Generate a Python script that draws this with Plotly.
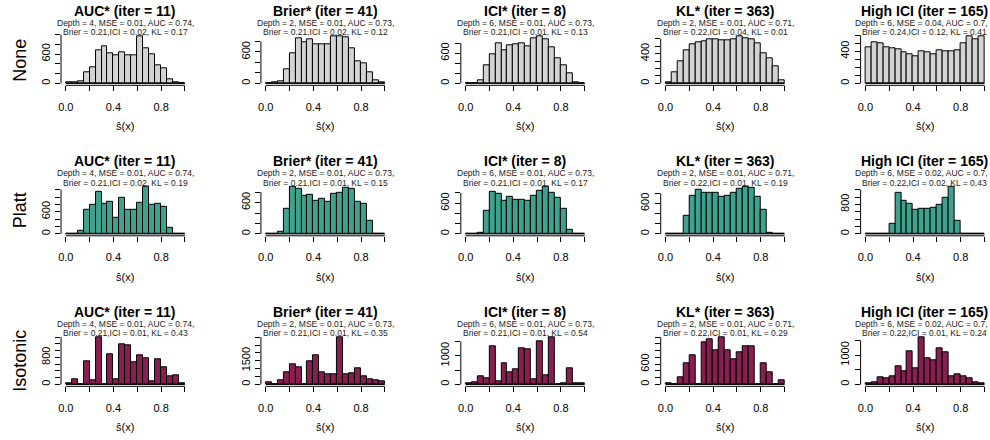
import plotly.graph_objects as go

# Histogram bins of the calibrated scores
bin_edges = [0.00, 0.05, 0.10, 0.15, 0.20, 0.25, 0.30, 0.35, 0.40, 0.45, 0.50,
             0.55, 0.60, 0.65, 0.70, 0.75, 0.80, 0.85, 0.90, 0.95, 1.00]

row_names = ["None", "Platt", "Isotonic"]
fill_colors = ["#D3D3D3", "#3FA28F", "#871F50"]

panel_titles = ["AUC* (iter = 11)", "Brier* (iter = 41)", "ICI* (iter = 8)",
                "KL* (iter = 363)", "High ICI (iter = 165)"]

stats_line1 = [
    ["Depth = 4, MSE = 0.01, AUC = 0.74,", "Depth = 2, MSE = 0.01, AUC = 0.73,",
     "Depth = 6, MSE = 0.01, AUC = 0.73,", "Depth = 2, MSE = 0.01, AUC = 0.71,",
     "Depth = 6, MSE = 0.04, AUC = 0.7,"],
    ["Depth = 4, MSE = 0.01, AUC = 0.74,", "Depth = 2, MSE = 0.01, AUC = 0.73,",
     "Depth = 6, MSE = 0.01, AUC = 0.73,", "Depth = 2, MSE = 0.01, AUC = 0.71,",
     "Depth = 6, MSE = 0.02, AUC = 0.7,"],
    ["Depth = 4, MSE = 0.01, AUC = 0.74,", "Depth = 2, MSE = 0.01, AUC = 0.73,",
     "Depth = 6, MSE = 0.01, AUC = 0.73,", "Depth = 2, MSE = 0.01, AUC = 0.71,",
     "Depth = 6, MSE = 0.02, AUC = 0.7,"],
]
stats_line2 = [
    ["Brier = 0.21,ICI = 0.02, KL = 0.17", "Brier = 0.21,ICI = 0.02, KL = 0.12",
     "Brier = 0.21,ICI = 0.01, KL = 0.13", "Brier = 0.22,ICI = 0.04, KL = 0.01",
     "Brier = 0.24,ICI = 0.12, KL = 0.41"],
    ["Brier = 0.21,ICI = 0.02, KL = 0.19", "Brier = 0.21,ICI = 0.01, KL = 0.15",
     "Brier = 0.21,ICI = 0.01, KL = 0.17", "Brier = 0.22,ICI = 0.01, KL = 0.19",
     "Brier = 0.22,ICI = 0.02, KL = 0.43"],
    ["Brier = 0.21,ICI = 0.01, KL = 0.43", "Brier = 0.21,ICI = 0.01, KL = 0.35",
     "Brier = 0.21,ICI = 0.01, KL = 0.54", "Brier = 0.22,ICI = 0.01, KL = 0.29",
     "Brier = 0.22,ICI = 0.01, KL = 0.24"],
]

# Bin counts, no recalibration
none_auc = [14, 14, 48, 226, 322, 685, 753, 616, 582, 637, 582, 582, 965, 719, 603, 377, 308, 89, 14, 7]
none_brier = [5, 13, 33, 267, 567, 867, 787, 833, 753, 747, 747, 900, 900, 887, 667, 420, 380, 220, 53, 13]
none_ici = [7, 7, 55, 362, 581, 787, 663, 752, 773, 800, 732, 903, 937, 869, 718, 499, 356, 205, 14, 7]
none_kl = [14, 150, 296, 447, 531, 550, 573, 597, 597, 578, 578, 588, 635, 611, 588, 541, 409, 338, 235, 47]
none_high = [452, 516, 503, 452, 439, 426, 387, 366, 335, 400, 383, 366, 409, 400, 404, 417, 495, 589, 546, 589]

# Bin counts after Platt scaling
platt_auc = [0, 0, 97, 649, 794, 1133, 813, 871, 426, 987, 649, 649, 842, 1280, 794, 823, 745, 174, 0, 0]
platt_brier = [0, 0, 39, 481, 904, 871, 728, 754, 631, 663, 611, 761, 793, 878, 858, 611, 579, 260, 0, 0]
platt_ici = [0, 0, 20, 452, 822, 775, 654, 721, 674, 674, 654, 741, 836, 923, 809, 701, 485, 81, 0, 0]
platt_kl = [0, 0, 3, 348, 750, 871, 817, 817, 817, 737, 750, 804, 898, 931, 905, 737, 482, 20, 0, 0]
platt_high = [0, 0, 0, 0, 280, 1120, 905, 812, 644, 672, 672, 718, 784, 970, 1280, 345, 0, 0, 0, 0]

# Bin counts after isotonic regression
iso_auc = [30, 150, 0, 700, 120, 1400, 0, 900, 150, 1200, 1150, 650, 850, 770, 100, 730, 500, 250, 270, 30]
iso_brier = [150, 0, 257, 792, 1284, 1070, 0, 1498, 1862, 792, 642, 642, 2996, 642, 706, 1006, 535, 321, 257, 214]
iso_ici = [35, 83, 271, 212, 1322, 118, 732, 437, 531, 1274, 1239, 177, 1522, 319, 1652, 0, 35, 555, 35, 24]
iso_kl = [30, 0, 220, 630, 850, 0, 1250, 1350, 1020, 1400, 1000, 750, 950, 1120, 1140, 0, 620, 350, 0, 120]
iso_high = [35, 58, 253, 207, 288, 610, 460, 1116, 552, 1610, 886, 828, 1242, 1093, 265, 345, 288, 196, 58, 35]

counts = [
    [none_auc, none_brier, none_ici, none_kl, none_high],
    [platt_auc, platt_brier, platt_ici, platt_kl, platt_high],
    [iso_auc, iso_brier, iso_ici, iso_kl, iso_high],
]

# y-axis tick spacing and which ticks carry a label
y_tick_step = [
    [200, 200, 200, 100, 100],
    [200, 200, 200, 200, 200],
    [200, 500, 500, 200, 500],
]
y_tick_labelled = [
    [[0, 600], [0, 600], [0, 600], [0, 400], [0, 400]],
    [[0, 600], [0, 600], [0, 600], [0, 600], [0, 800]],
    [[0, 800], [0, 1500], [0, 1000], [0, 600], [0, 1000]],
]

x_tick_vals = [0.0, 0.2, 0.4, 0.6, 0.8, 1.0]
x_tick_text = ["0.0", "", "0.4", "", "0.8", ""]

# ---- page geometry (pixels) ----
W, H = 990, 440
col_zero = 63.0      # pixel of x = 0 in the first column
col_pitch = 200.5
unit_w = 119.5       # pixels spanned by x from 0 to 1
row_top = 34.3
row_bottom = 85.3
row_pitch = 150.5

FONT = "Liberation Sans, Arial, Helvetica, sans-serif"


def px(x):
    return x / W


def py(y):
    return 1 - y / H


bin_mid = [(a + b) / 2 for a, b in zip(bin_edges[:-1], bin_edges[1:])]
bin_width = bin_edges[1] - bin_edges[0]

fig = go.Figure()
annotations = []
shapes = []
layout_axes = {}

for r in range(3):
    for c in range(5):
        k = r * 5 + c + 1
        xa = "x" if k == 1 else f"x{k}"
        ya = "y" if k == 1 else f"y{k}"
        xname = "xaxis" if k == 1 else f"xaxis{k}"
        yname = "yaxis" if k == 1 else f"yaxis{k}"

        vals = counts[r][c]
        top = max(vals)
        x0 = col_zero + col_pitch * c
        left = x0 - 0.04 * unit_w
        right = x0 + 1.04 * unit_w
        t = row_top + row_pitch * r
        b = row_bottom + row_pitch * r

        fig.add_trace(go.Bar(
            x=bin_mid, y=vals, width=bin_width, xaxis=xa, yaxis=ya,
            marker=dict(color=fill_colors[r], line=dict(color="black", width=1)),
            showlegend=False, hoverinfo="x+y",
        ))

        step = y_tick_step[r][c]
        ymin, ymax = -0.04 * top, 1.04 * top
        yt = []
        v = 0
        while v <= ymax:
            yt.append(v)
            v += step
        ytext = [str(v) if v in y_tick_labelled[r][c] else "" for v in yt]

        layout_axes[xname] = dict(
            domain=[px(left), px(right)], anchor=ya, range=[-0.04, 1.04],
            tickmode="array", tickvals=x_tick_vals, ticktext=x_tick_text,
            ticks="outside", ticklen=5, tickwidth=1, tickcolor="black",
            showline=False, showgrid=False, zeroline=False,
            tickfont=dict(family=FONT, size=11, color="black"),
            ticklabelstandoff=6, fixedrange=True,
        )
        layout_axes[yname] = dict(
            domain=[py(b), py(t)], anchor=xa, range=[ymin, ymax],
            tickmode="array", tickvals=yt, ticktext=ytext, tickangle=-90,
            ticks="outside", ticklen=5, tickwidth=1, tickcolor="black",
            showline=False, showgrid=False, zeroline=False,
            tickfont=dict(family=FONT, size=11, color="black"),
            ticklabelstandoff=1, fixedrange=True,
        )

        # axis lines span only the tick range, as in base graphics
        shapes.append(dict(type="line", xref=xa, yref=f"{ya} domain",
                           x0=x_tick_vals[0], x1=x_tick_vals[-1], y0=0, y1=0,
                           line=dict(color="black", width=1)))
        shapes.append(dict(type="line", xref=f"{xa} domain", yref=ya,
                           x0=0, x1=0, y0=yt[0], y1=yt[-1],
                           line=dict(color="black", width=1)))
        # zero-height bins still show their outline along the baseline
        shapes.append(dict(type="line", xref=xa, yref=ya,
                           x0=bin_edges[0], x1=bin_edges[-1], y0=0, y1=0,
                           line=dict(color="black", width=1), layer="above"))

        cx = px((left + right) / 2)
        annotations.append(dict(
            text=f"<b>{panel_titles[c]}</b>", x=cx, y=py(10.5 + row_pitch * r),
            xref="paper", yref="paper", xanchor="center", yanchor="middle",
            showarrow=False, font=dict(family=FONT, size=14, color="black")))
        # the first stats line of the last column runs up to the page edge
        if c == 4:
            line1_pos = dict(x=px(989.5), xanchor="right")
        else:
            line1_pos = dict(x=cx, xanchor="center")
        annotations.append(dict(
            text=stats_line1[r][c], y=py(22.8 + row_pitch * r),
            xref="paper", yref="paper", yanchor="middle", **line1_pos,
            showarrow=False, font=dict(family=FONT, size=8.5, color="#222222")))
        annotations.append(dict(
            text=stats_line2[r][c], x=cx, y=py(32.2 + row_pitch * r),
            xref="paper", yref="paper", xanchor="center", yanchor="middle",
            showarrow=False, font=dict(family=FONT, size=8.5, color="#222222")))
        annotations.append(dict(
            text="ŝ(x)", x=px(x0 + 0.5 * unit_w), y=py(b + 41),
            xref="paper", yref="paper", xanchor="center", yanchor="middle",
            showarrow=False, font=dict(family=FONT, size=11, color="black")))

    annotations.append(dict(
        text=row_names[r], x=px(17), y=py((row_top + row_bottom) / 2 + row_pitch * r),
        xref="paper", yref="paper", xanchor="center", yanchor="middle",
        textangle=-90, showarrow=False,
        font=dict(family=FONT, size=18, color="black")))

fig.update_layout(
    width=W, height=H, margin=dict(l=0, r=0, t=0, b=0),
    paper_bgcolor="white", plot_bgcolor="white",
    annotations=annotations, shapes=shapes, bargap=0,
    **layout_axes,
)

fig.write_html("out.html")
